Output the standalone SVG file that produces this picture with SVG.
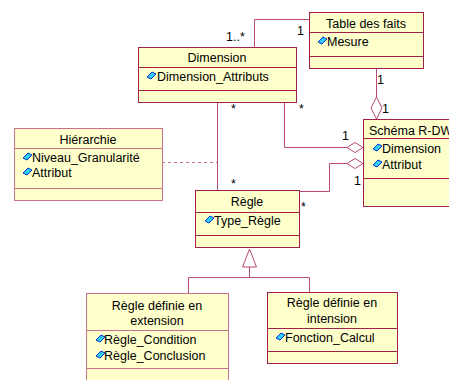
<svg xmlns="http://www.w3.org/2000/svg" width="449" height="380" viewBox="0 0 449 380">
<style>
text{font-family:"Liberation Sans",Arial,sans-serif;font-size:12.5px;fill:#000}
.t{text-anchor:middle}
.box rect{fill:#ffffcc;stroke:#a0204a;stroke-width:1}
.box line{stroke:#a0204a;stroke-width:1}
.pk rect,.pk line{stroke:#c8708f}
.cn{fill:none;stroke:#b84a73;stroke-width:1}
.dia{fill:#fff;stroke:#b84a73;stroke-width:1}
.dot{fill:none;stroke:#c8708f;stroke-width:1.2;stroke-dasharray:3,3}
</style>
<defs>
<path id="ic" d="M0,-4 L5,-9 L9,-7 L4,-2 Z" fill="#33ccff" stroke="#0033cc" stroke-width="1"/>
</defs>
<rect width="449" height="380" fill="#fff"/>
<g id="connectors">
<polyline class="cn" points="309.5,19.5 254.5,19.5 254.5,47.5"/>
<polyline class="cn" points="376.5,68 376.5,97"/>
<polygon class="dia" points="376.5,97 382,108 376.5,119 371,108"/>
<polyline class="cn" points="284.5,102 284.5,147.5 347,147.5"/>
<polygon class="dia" points="347,147.5 355,142.5 363,147.5 355,152.5"/>
<polyline class="cn" points="217.5,102 217.5,190"/>
<polyline class="cn" points="299,191.5 329.5,191.5 329.5,163.5 347,163.5"/>
<polygon class="dia" points="347,163.5 355,158.5 363,163.5 355,168.5"/>
<line class="dot" x1="162" y1="162.5" x2="217" y2="162.5"/>
<polygon class="dia" points="249.5,249 256.5,267 242.5,267"/>
<polyline class="cn" points="249.5,267 249.5,277.5"/>
<polyline class="cn" points="188.5,293 188.5,277.5 309.5,277.5 309.5,292"/>
<text x="226" y="41">1..*</text>
<text x="297" y="35">1</text>
<text x="231" y="113">*</text>
<text x="299" y="113">*</text>
<text x="377" y="84">1</text>
<text x="382" y="113">1</text>
<text x="342" y="140">1</text>
<text x="354" y="185">1</text>
<text x="231" y="188">*</text>
<text x="301" y="211">*</text>
</g>
<g id="dimension" class="box">
<rect x="138.5" y="47.5" width="158" height="55"/>
<line x1="138.5" y1="67.5" x2="296.5" y2="67.5"/>
<line x1="138.5" y1="90.5" x2="296.5" y2="90.5"/>
<text class="t" x="217" y="62">Dimension</text>
<use href="#ic" x="147" y="81"/>
<text x="157" y="81">Dimension_Attributs</text>
</g>
<g id="table-des-faits" class="box">
<rect x="309.5" y="12.5" width="114" height="56"/>
<line x1="309.5" y1="32.5" x2="423.5" y2="32.5"/>
<line x1="309.5" y1="56.5" x2="423.5" y2="56.5"/>
<text class="t" x="366" y="28">Table des faits</text>
<use href="#ic" x="318" y="46"/>
<text x="327" y="46">Mesure</text>
</g>
<g id="hierarchie" class="box pk">
<rect x="14.5" y="128.5" width="148" height="72"/>
<line x1="14.5" y1="148.5" x2="162.5" y2="148.5"/>
<line x1="14.5" y1="188.5" x2="162.5" y2="188.5"/>
<text class="t" x="88" y="144">Hiérarchie</text>
<use href="#ic" x="23" y="162"/>
<text x="32" y="162">Niveau_Granularité</text>
<use href="#ic" x="23" y="177"/>
<text x="32" y="177">Attribut</text>
</g>
<g id="regle" class="box">
<rect x="195.5" y="190.5" width="104" height="57"/>
<line x1="195.5" y1="212.5" x2="299.5" y2="212.5"/>
<line x1="195.5" y1="235.5" x2="299.5" y2="235.5"/>
<text class="t" x="247" y="206">Règle</text>
<use href="#ic" x="205" y="225"/>
<text x="214" y="225">Type_Règle</text>
</g>
<g id="schema-rdw" class="box">
<rect x="363.5" y="119.5" width="100" height="87"/>
<line x1="363.5" y1="138.5" x2="463.5" y2="138.5"/>
<line x1="363.5" y1="178.5" x2="463.5" y2="178.5"/>
<text x="369" y="135">Schéma R-DW</text>
<use href="#ic" x="373" y="153"/>
<text x="382" y="153">Dimension</text>
<use href="#ic" x="373" y="169"/>
<text x="382" y="169">Attribut</text>
</g>
<g id="regle-extension" class="box pk">
<rect x="86.5" y="293.5" width="142" height="100"/>
<line x1="86.5" y1="330.5" x2="228.5" y2="330.5"/>
<line x1="86.5" y1="368.5" x2="228.5" y2="368.5"/>
<text class="t" x="157" y="310">Règle définie en</text>
<text class="t" x="157" y="325">extension</text>
<use href="#ic" x="96" y="344"/>
<text x="104" y="344">Règle_Condition</text>
<use href="#ic" x="96" y="360"/>
<text x="104" y="360">Règle_Conclusion</text>
</g>
<g id="regle-intension" class="box">
<rect x="267.5" y="292.5" width="130" height="71"/>
<line x1="267.5" y1="328.5" x2="397.5" y2="328.5"/>
<line x1="267.5" y1="351.5" x2="397.5" y2="351.5"/>
<text class="t" x="332" y="307">Règle définie en</text>
<text class="t" x="332" y="323">intension</text>
<use href="#ic" x="276" y="342"/>
<text x="285" y="342">Fonction_Calcul</text>
</g>
</svg>
